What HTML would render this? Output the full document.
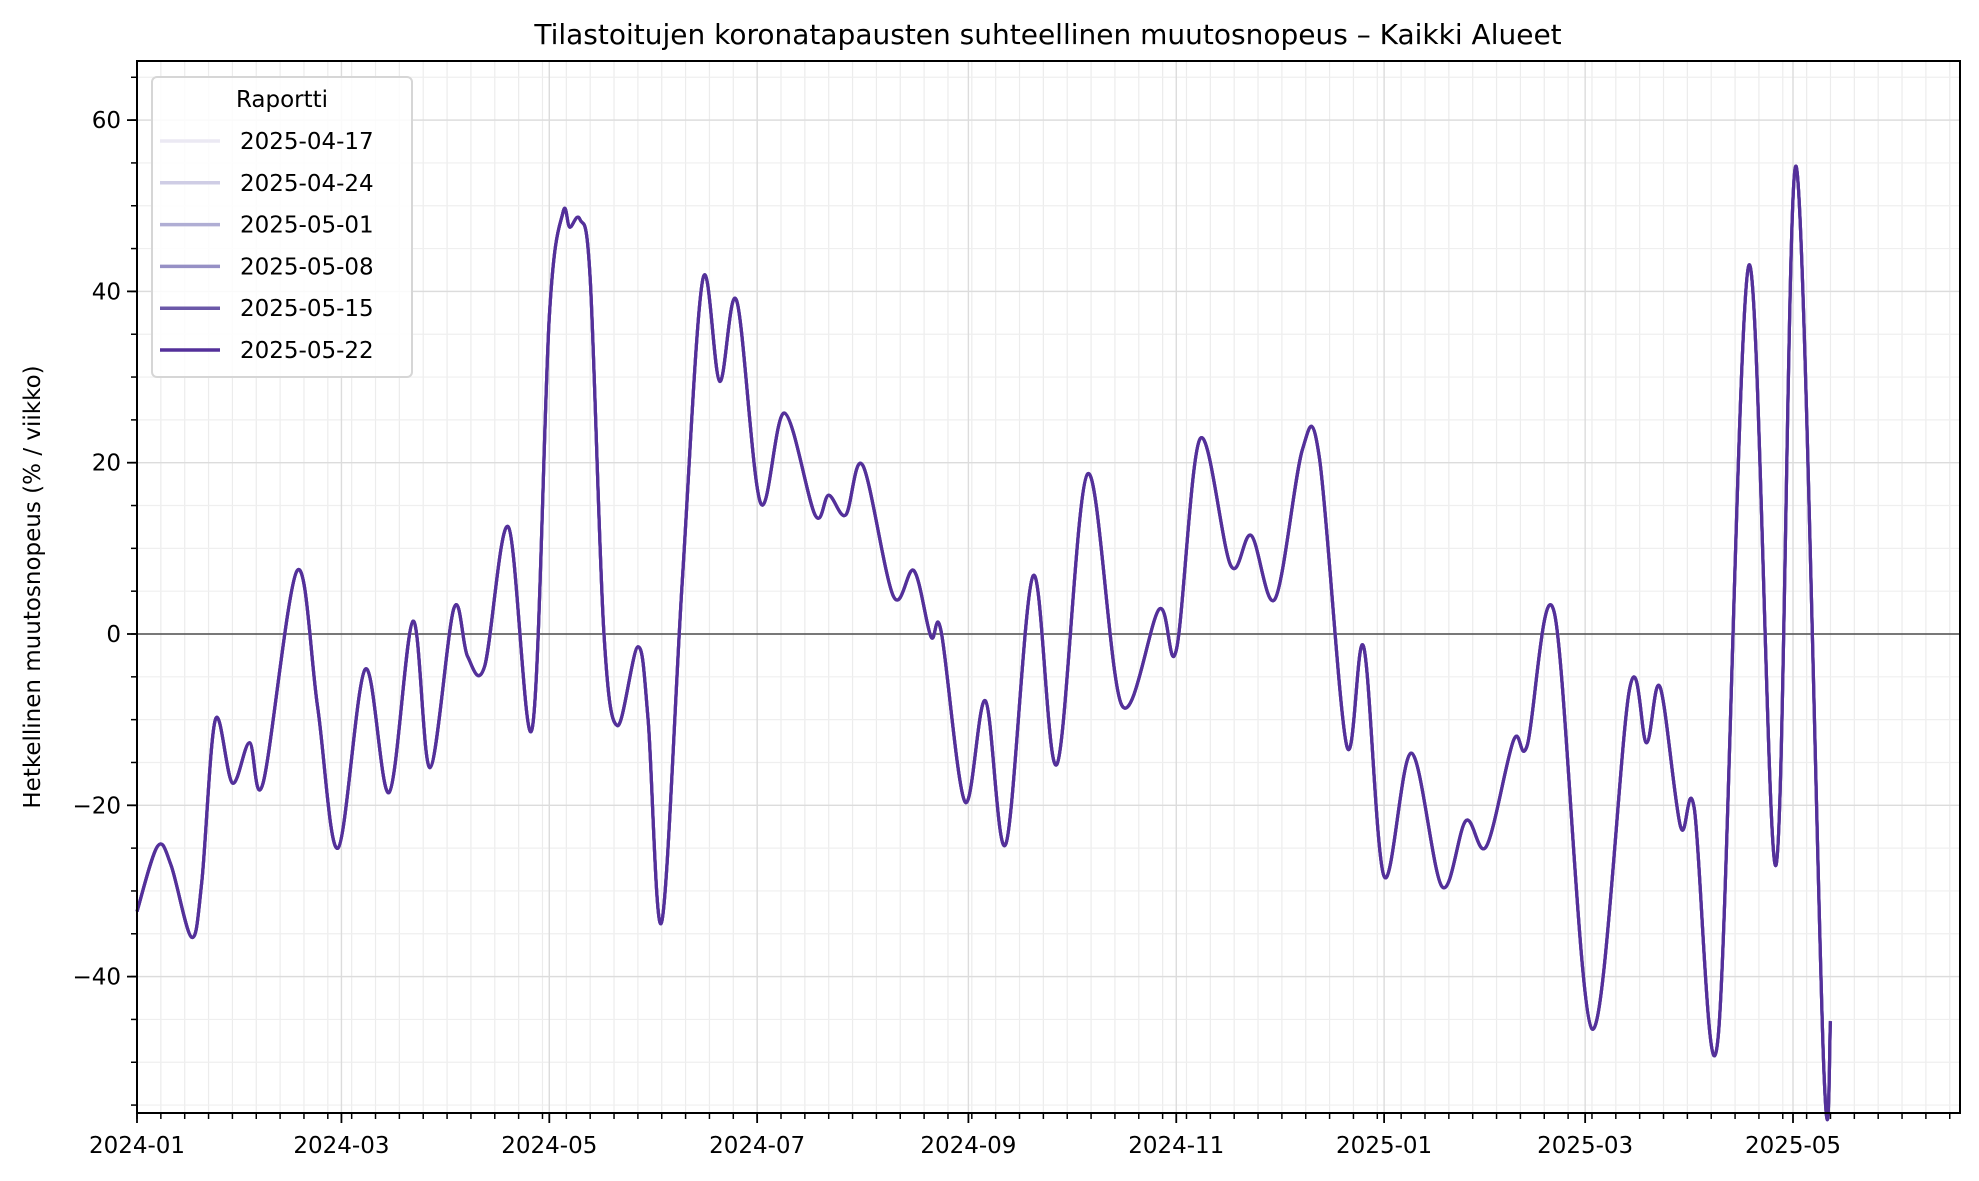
<!DOCTYPE html>
<html><head><meta charset="utf-8"><style>
html,body{margin:0;padding:0;background:#fff;}
svg{display:block;font-family:"DejaVu Sans","Liberation Sans",sans-serif;}
</style></head><body>
<svg id="chart" width="1979" height="1181" viewBox="0 0 1979 1181" xmlns="http://www.w3.org/2000/svg">
<text x="1048" y="44" font-size="28" text-anchor="middle">Tilastoitujen koronatapausten suhteellinen muutosnopeus – Kaikki Alueet</text>
<text transform="translate(40,587) rotate(-90)" font-size="23" text-anchor="middle">Hetkellinen muutosnopeus (% / viikko)</text>
<g id="grid"></g>
<g id="series"></g>
<g id="axes"></g>
<g id="legend"></g>
</svg>
<script>
const reportLabels = ["2025-04-17","2025-04-24","2025-05-01","2025-05-08","2025-05-15","2025-05-22"];
const reportColors = ["#ebe9f3","#cfcde5","#b0aed4","#9690c5","#6b58a8","#54309a"];
// days since 2024-01-01
const dayIndex = [0,6,10,16,19,23,28,33,37,47,53,59,67,74,81,86,93,97,102,109,116,121,125,127,130,133,137,141,147,150,154,160,166,171,176,183,190,199,203,208,213,222,228,233,236,243,249,255,263,270,279,289,300,305,312,321,327,334,342,347,355,360,366,374,383,390,396,404,408,416,427,438,443,447,453,457,464,473,481,487,495,497];
const rateValues = [-32.4,-24.8,-27,-35.4,-29,-10,-17.4,-12.7,-17.4,7.4,-8.5,-25,-4.1,-18.5,1.5,-15.6,3,-2.6,-3.8,12.5,-11,37,49.2,47.5,48.4,41.5,0.3,-10.7,-1.5,-10,-33.6,6,41.3,29.5,38.9,15.3,25.8,13.9,16.2,13.9,19.7,4.4,7.4,-0.3,0.3,-19.6,-7.8,-24.5,6.8,-15.2,18.7,-8.3,2.9,-1.9,22.8,8,11.5,4.1,21.5,20.6,-13,-1.5,-28.3,-13.9,-29.5,-21.8,-24.8,-12.4,-13,2.4,-46.1,-6.5,-12.7,-6.2,-22.5,-20.3,-47.2,43,-27,54.5,-50.3,-45.2];
const yTicks = [-40,-20,0,20,40,60];
const xTickLabels = ["2024-01","2024-03","2024-05","2024-07","2024-09","2024-11","2025-01","2025-03","2025-05"];
const xTickDays = [0,60,121,182,244,305,366,425,486];

const NS="http://www.w3.org/2000/svg";
const L=137,R=1960,T=61,B=1113;
const PXD=(1793-137)/486;
const xS=d=>L+d*PXD;
const yS=v=>634-v*8.565;
function mk(tag,attrs,parent){const e=document.createElementNS(NS,tag);for(const k in attrs)e.setAttribute(k,attrs[k]);parent.appendChild(e);return e;}
const grid=document.getElementById('grid'),axes=document.getElementById('axes'),series=document.getElementById('series'),legend=document.getElementById('legend');
const maxDay=(R-L)/PXD;
// minor x grid weekly
for(let d=0;d<=maxDay;d+=7){const x=xS(d);
 const g=mk('line',{x1:x,x2:x,y1:T,y2:B,stroke:'#ececec','stroke-width':1.2},grid);
 
 const t=mk('line',{x1:x,x2:x,y1:B,y2:B+6,stroke:'#000','stroke-width':1.5},axes);
 }
// minor y grid every 5
for(let v=-55;v<=65;v+=5){const y=yS(v);if(y<T||y>B)continue;
 const g=mk('line',{x1:L,x2:R,y1:y,y2:y,stroke:'#efefef','stroke-width':1.2},grid);
 
 const t=mk('line',{x1:L-6,x2:L,y1:y,y2:y,stroke:'#000','stroke-width':1.5},axes);
 }
xTickDays.forEach((d,i)=>{const x=xS(d);
 const g=mk('line',{x1:x,x2:x,y1:T,y2:B,stroke:'#dcdcdc','stroke-width':1.4},grid);
 
 const t=mk('line',{x1:x,x2:x,y1:B,y2:B+10,stroke:'#000','stroke-width':1.8},axes);
 
 const tx=mk('text',{x:x,y:B+40,'font-size':23,'text-anchor':'middle'},axes);tx.textContent=xTickLabels[i];
 });
yTicks.forEach(v=>{const y=yS(v);
 const g=mk('line',{x1:L,x2:R,y1:y,y2:y,stroke:'#dcdcdc','stroke-width':1.4},grid);
 
 const t=mk('line',{x1:L-10,x2:L,y1:y,y2:y,stroke:'#000','stroke-width':1.8},axes);
 
 const tx=mk('text',{x:L-16,y:y+8,'font-size':23,'text-anchor':'end'},axes);tx.textContent=(v<0?'\u2212'+(-v):v);
 });
const zl=mk('line',{x1:L,x2:R,y1:yS(0),y2:yS(0),stroke:'#333','stroke-width':1.3},grid);

const fr=mk('rect',{x:L,y:T,width:R-L,height:B-T,fill:'none',stroke:'#000','stroke-width':2},axes);

// smooth path
const pts=dayIndex.map((d,i)=>[xS(d),yS(rateValues[i])]);
let dStr='M'+pts[0][0]+','+pts[0][1];
for(let i=0;i<pts.length-1;i++){const p0=pts[Math.max(0,i-1)],p1=pts[i],p2=pts[i+1],p3=pts[Math.min(pts.length-1,i+2)];
 const c1=[p1[0]+(p2[0]-p0[0])/6,p1[1]+(p2[1]-p0[1])/6],c2=[p2[0]-(p3[0]-p1[0])/6,p2[1]-(p3[1]-p1[1])/6];
 dStr+=`C${c1[0]},${c1[1]} ${c2[0]},${c2[1]} ${p2[0]},${p2[1]}`;}
reportLabels.forEach((lab,i)=>{
 const p=mk('path',{d:dStr,fill:'none',stroke:reportColors[i],'stroke-width':3.2,'stroke-linejoin':'round'},series);
 });
// legend
const lb=mk('rect',{x:152,y:77,width:260,height:300,rx:5,fill:'#fff','fill-opacity':0.85,stroke:'#d6d6d6','stroke-width':2},legend);

const lt=mk('text',{x:282,y:107,'font-size':23,'text-anchor':'middle'},legend);lt.textContent='Raportti';

reportLabels.forEach((lab,i)=>{const y=141+i*41.8;
 const g=mk('g',{},legend);
 mk('line',{x1:160,x2:220,y1:y,y2:y,stroke:reportColors[i],'stroke-width':3.5},g);
 const t=mk('text',{x:240,y:y+8,'font-size':23},g);t.textContent=lab;});
</script>
</body></html>
